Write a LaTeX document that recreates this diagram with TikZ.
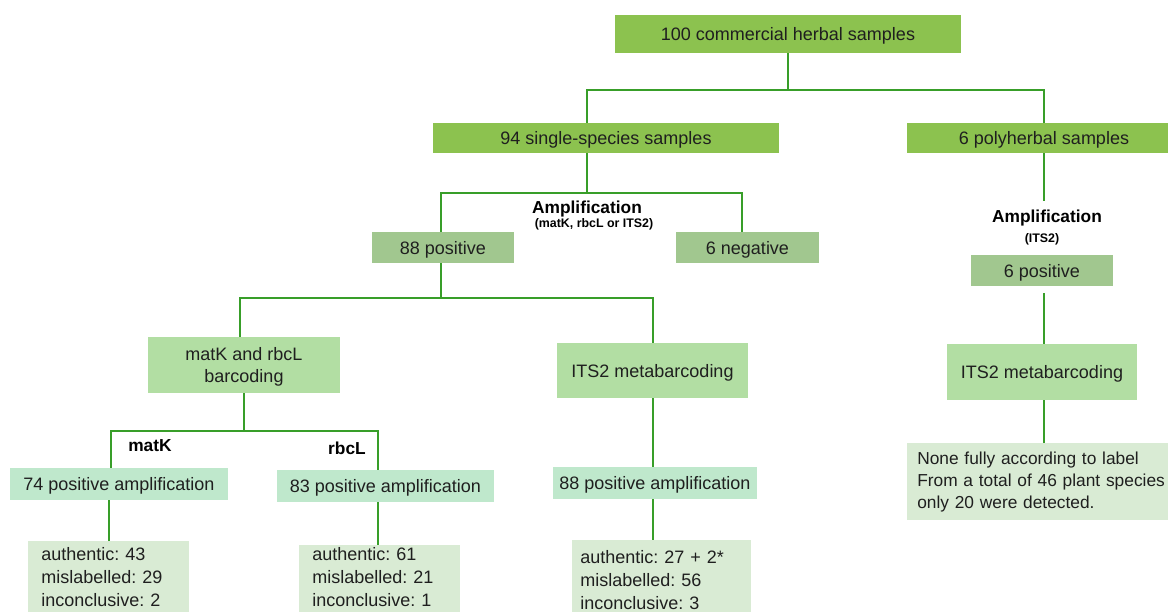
\documentclass[tikz,border=0pt]{standalone}
\usepackage{fontspec}
\setmainfont{Liberation Sans}
\usetikzlibrary{positioning}
\definecolor{topcol}{rgb}{0.55, 0.76, 0.31}
\definecolor{ampcol}{rgb}{0.63, 0.78, 0.56}
\definecolor{methodcol}{rgb}{0.70, 0.87, 0.64}
\definecolor{poscol}{rgb}{0.75, 0.91, 0.80}
\definecolor{rescol}{rgb}{0.85, 0.92, 0.83}
\definecolor{linkcol}{rgb}{0.22, 0.62, 0.16}
\definecolor{txtcol}{rgb}{0.12, 0.12, 0.12}
\newlength\pxu
\setlength\pxu{0.75pt}
\tikzset{
  box/.style={rectangle, inner sep=0pt, align=center, text=txtcol,
              text depth=0pt, font=\fontsize{13.5}{17}\selectfont},
  top box/.style={box, fill=topcol},
  amp box/.style={box, fill=ampcol},
  method box/.style={box, fill=methodcol},
  pos box/.style={box, fill=poscol},
  note box/.style={rectangle, fill=rescol, align=left, anchor=north west,
                   text=txtcol, inner xsep=9.75pt, inner ysep=4.5pt,
                   font=\fontsize{13.5}{17.25}\selectfont},
  res box/.style={note box, execute at end node={\rule[-12pt]{0pt}{12pt}}},
  head/.style={font=\fontsize{13}{15}\selectfont\bfseries, text=black, inner sep=0pt},
  subhead/.style={font=\fontsize{9.3}{11}\selectfont\bfseries, text=black, inner sep=0pt},
  link/.style={draw=linkcol, line width=2.2pt},
}

\begin{document}
\frenchspacing
\begin{tikzpicture}[x=\pxu, y=-\pxu]
    \useasboundingbox (0,0) rectangle (1168,611);

    \node[top box, minimum width=346\pxu, minimum height=38\pxu] (all) at (788,34) {100 commercial herbal samples};
    \node[top box, minimum width=346\pxu, minimum height=30\pxu] (single) at (606,138) {94 single-species samples};
    \node[top box, minimum width=274\pxu, minimum height=30\pxu] (poly) at (1044,138) {6 polyherbal samples};

    \node[head] (amp1) at (587,209) {Amplification};
    \node[subhead] (amp1sub) at (594,224) {(matK, rbcL or ITS2)};
    \node[amp box, minimum width=142\pxu, minimum height=31\pxu] (pos88) at (443,247.5) {88 positive};
    \node[amp box, minimum width=143\pxu, minimum height=31\pxu] (neg6) at (747.5,247.5) {6 negative};

    \node[head] (amp2) at (1047,218) {Amplification};
    \node[subhead] (amp2sub) at (1042,239) {(ITS2)};
    \node[amp box, minimum width=142\pxu, minimum height=31\pxu] (pos6) at (1042,270.5) {6 positive};

    \node[method box, minimum width=192\pxu, minimum height=56\pxu] (barc) at (244,365) {matK and rbcL\\barcoding};
    \node[method box, minimum width=191\pxu, minimum height=55\pxu] (metaA) at (652.5,370.5) {ITS2 metabarcoding};
    \node[method box, minimum width=190\pxu, minimum height=56\pxu] (metaB) at (1042,372) {ITS2 metabarcoding};

    \node[head] (matk) at (150,446) {matK};
    \node[head] (rbcl) at (347,448) {rbcL};
    \node[pos box, minimum width=218\pxu, minimum height=32\pxu] (amp74) at (119,484) {74 positive amplification};
    \node[pos box, minimum width=217\pxu, minimum height=32\pxu] (amp83) at (385.5,486) {83 positive amplification};
    \node[pos box, minimum width=204\pxu, minimum height=32\pxu] (amp88) at (655,483) {88 positive amplification};

    \node[res box, text width=101.25pt] (res1) at (28,541) {authentic: 43\\mislabelled: 29\\inconclusive: 2};
    \node[res box, text width=101.25pt, inner ysep=1.5pt] (res2) at (299,545) {authentic: 61\\mislabelled: 21\\inconclusive: 1};
    \node[res box, text width=122.25pt, inner xsep=6pt, inner ysep=7.5pt] (res3) at (572,540) {authentic: 27 + 2*\\mislabelled: 56\\inconclusive: 3};
    \node[note box, text width=197.25pt, minimum height=77\pxu, inner xsep=7.5pt, inner ysep=0pt,
          font=\fontsize{13}{16.5}\selectfont] (none) at (907,443) {None fully according to label\\From a total of 46 plant species\\only 20 were detected.};

    % junctions
    \coordinate (busL) at (587,90);
    \coordinate (busR) at (1044,90);
    \coordinate (ampL) at (441,193);
    \coordinate (ampR) at (742,193);
    \coordinate (posL) at (240,298);
    \coordinate (posR) at (653,298);
    \coordinate (genL) at (111,431);
    \coordinate (genR) at (378,431);

    % top split
    \draw[link] (all.south) -- (all.south |- busL);
    \draw[link] (single.north -| busL) -- (busL) -- (busR) -- (busR |- poly.north);

    % single-species amplification
    \draw[link] (single.south -| busL) -- (busL |- ampL);
    \draw[link] (pos88.north -| ampL) -- (ampL) -- (ampR) -- (ampR |- neg6.north);

    % barcoding branches
    \draw[link] (pos88.south -| ampL) -- (ampL |- posL);
    \draw[link] (barc.north -| posL) -- (posL) -- (posR) -- (posR |- metaA.north);
    \draw[link] (barc.south) -- (barc.south |- genL);
    \draw[link] (amp74.north -| genL) -- (genL) -- (genR) -- (genR |- amp83.north);
    \draw[link] (amp74.south -| 109,0) -- (res1.north -| 109,0);
    \draw[link] (amp83.south -| genR) -- (res2.north -| genR);

    % metabarcoding
    \draw[link] (metaA.south -| posR) -- (amp88.north -| posR);
    \draw[link] (amp88.south -| posR) -- (res3.north -| posR);

    % polyherbal
    \draw[link] (poly.south -| busR) -- (1044,201);
    \draw[link] (1044,293) -- (metaB.north -| busR);
    \draw[link] (metaB.south -| busR) -- (none.north -| busR);
\end{tikzpicture}
\end{document}
